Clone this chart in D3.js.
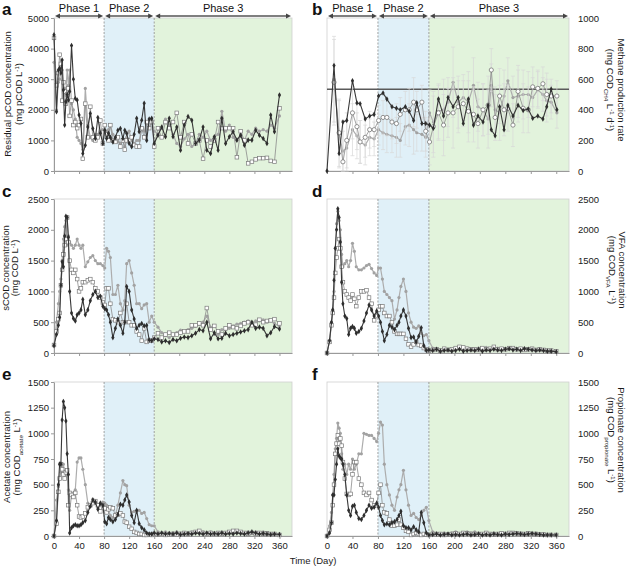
<!DOCTYPE html>
<html><head><meta charset="utf-8">
<script src="https://cdnjs.cloudflare.com/ajax/libs/d3/7.8.5/d3.min.js"></script>
<style>body{margin:0;background:#fff} svg{font-family:"Liberation Sans",Arial,sans-serif;display:block}</style>
</head><body><svg id="c" width="627" height="568"></svg>
<script>
// ---------- DATA ----------
const days = [
0,4,7,9,11,13,15,17,19,21,
23,25,28,31,34,37,40,43,46,50,
54,58,62,66,70,74,78,81,84,87,
90,94,98,102,106,110,113,116,120,124,
128,132,136,140,144,148,152,156,160,166,
172,178,184,190,196,202,208,214,220,226,
232,238,244,250,256,262,268,274,280,286,
292,298,304,310,316,322,328,334,340,346,
352,360];
const xTicks = [0,40,80,120,160,200,240,280,320,360];
const phaseNames = ["Phase 1","Phase 2","Phase 3"];
const phaseStarts = [0,80,160];

// a: residual pCOD
const aDark = [
4450,1940,3300,3360,3200,3630,2650,1500,2260,2500,
2320,2600,4100,3000,2370,2320,1830,1550,570,840,
1440,1880,1390,1060,1750,1230,900,1330,1060,1230,
1100,950,1100,1330,1390,1060,1330,1230,900,790,
1200,1720,1280,1660,2210,1000,1700,1720,900,1170,
1440,1120,1720,1120,1440,680,1500,1780,1660,900,
1010,1440,680,570,1120,680,1720,900,1120,1280,
1010,1170,840,1010,1010,1330,1170,1060,900,1830,
1280,2480];
const aGray = [
3550,2000,2900,3000,3300,3300,2300,2700,2600,3300,
2800,3300,2200,2000,1700,1100,1000,900,700,2700,
1500,1100,1000,1200,1200,1300,1350,1250,1300,1350,
1500,1200,1050,950,900,1000,800,1100,1300,1000,
900,1000,1000,1400,1300,1600,1400,1700,1300,1200,
1400,1700,1500,1200,900,800,1050,1200,800,900,
1200,1100,1300,1000,1100,1200,1950,1300,1500,1100,
1000,1200,1000,1300,1200,1400,1300,1350,1300,1500,
1400,1800];
const aOpen = [
4350,2800,3200,3800,3500,2300,2900,2600,2200,2500,
2700,1800,2300,1500,1600,1400,1500,1700,400,2200,
1100,2100,1100,1000,1100,1650,900,1500,1200,1000,
1500,1000,950,1100,800,1000,700,1000,1000,1100,
850,800,800,1400,1100,1600,1400,1600,800,1400,
1100,1600,1400,1600,1900,1100,1600,900,1200,900,
1000,400,1000,800,1000,1600,1400,1400,1400,1400,
450,1300,1000,250,300,380,420,420,430,330,
300,2050];

// b: methane production rate
const bDays = [0,11,19,25,31,40,47,52,60,67,74,81,88,94,102,109,115,123,129,136,141,149,155,161,167,175,183,190,198,206,214,222,230,237,245,253,258,264,271,278,284,292,300,308,316,323,331,339,345,352,361];
const bDark = [0,690,115,320,330,590,445,440,340,360, 370,490,510,470,420,410,400,420,390,330, 445,310,310,300,280,470,360,480,420,480, 310,470,300,360,320,430,270,230,420,270, 430,360,430,395,405,345,360,340,420,535, 400];
const bGray = [null,600,240,130,150,270,230,190,170,220, 210,270,250,240,230,220,200,290,300,270, 250,240,220,380,320,390,400,450,580,450, 480,450,560,420,400,340,560,400,380,490, 590,480,490,500,500,480,530,500,460,450, 380];
const bOpen = [null,580,250,60,200,380,290,190,220,270, 270,330,350,350,320,310,370,400,400,450, 400,450,260,190,290,380,300,380,380,420, 440,390,370,310,400,430,660,350,490,400, 410,300,520,410,400,550,540,570,500,490, 490];
const bErr = [0,280,220,200,180,170,150,140,130,120, 110,100,110,120,110,130,110,120,140,160, 120,110,130,150,200,180,200,160,230,170, 150,200,180,160,170,190,140,150,180,170, 150,140,170,160,150,130,120,110,140,110, 100];
const bTarget = 535;

// c: sCOD
const cDark = [
120,300,450,580,1100,1480,1400,1900,2220,2200,
1880,1000,650,560,520,620,650,700,870,620,
700,850,950,1000,900,920,760,720,700,620,
500,250,400,550,450,320,500,1080,1000,700,
550,400,450,480,440,450,210,200,230,220,
180,200,170,220,200,240,260,250,280,320,
380,360,500,230,330,230,240,320,280,300,
320,340,360,380,500,400,420,400,280,330,
430,390];
const cGray = [
120,500,800,1000,1200,1500,1850,2050,2150,1750,
1900,1800,1750,1700,1750,1850,1750,1700,1750,1400,
1480,1550,1580,1500,1450,1450,1420,1380,1700,1650,
1550,950,950,1100,800,700,850,1450,1500,1300,
1100,800,800,720,780,800,500,600,500,420,
330,280,250,290,330,370,350,380,400,430,
460,500,600,420,300,300,380,380,400,440,
470,480,500,520,490,520,520,540,500,520,
480,430];
const cOpen = [
130,350,550,650,1100,1350,1600,1750,1850,2200,
1800,1500,1350,1300,1350,1200,1000,1050,1150,1150,
1180,1200,1150,1050,1000,900,820,780,1050,1050,
800,550,530,500,650,500,500,800,500,450,
450,350,300,200,400,180,200,200,250,320,
250,300,330,300,300,330,350,350,450,450,
480,450,730,380,440,350,300,400,450,420,
400,440,480,500,450,460,540,500,520,530,
550,480];

// d: VFA
const dDark = [
0,200,500,700,1180,1700,2000,2340,2200,1800,
1150,800,600,560,300,400,430,400,320,350,
400,520,650,780,700,600,680,600,500,350,
200,300,450,420,380,450,500,600,700,600,
400,250,260,180,270,410,120,40,50,40,
60,30,40,50,30,40,60,30,40,50,
40,60,30,50,40,60,50,40,60,70,
50,60,40,70,60,50,40,50,40,30,
30,20];
const dGray = [
0,200,500,700,1000,1700,2100,2300,2150,2000,
1600,1400,1450,1500,1400,1500,1780,1650,1400,1350,
1350,1380,1420,1440,1370,1300,1260,1380,1380,1200,
1000,950,900,850,550,700,900,1080,1200,1000,
650,500,420,400,440,320,280,300,200,80,
60,50,70,40,60,80,90,60,80,60,
70,80,50,90,60,70,80,60,70,60,
80,70,60,80,60,50,60,70,50,40,
40,30];
const dOpen = [
0,180,450,650,900,1300,1550,1700,1850,1700,
1400,1150,1000,950,900,850,950,880,760,900,
1000,1000,1020,900,800,530,600,700,760,760,
650,600,600,500,350,310,310,310,310,230,
140,100,140,180,130,120,80,60,40,50,
60,40,70,50,60,80,100,90,70,60,
60,50,80,60,70,100,60,70,60,80,
80,60,70,50,60,70,50,60,50,40,
40,30];

// e: acetate
const eDark = [
0,150,500,700,700,1130,1310,1250,1120,800,
600,30,80,100,110,100,100,110,130,150,
230,290,350,330,260,320,300,140,120,180,
160,140,160,210,310,300,350,400,330,200,
130,250,120,80,60,30,20,20,30,20,
30,20,25,20,30,15,20,25,20,30,
25,20,30,20,25,20,30,20,25,20,
30,25,20,30,40,30,20,25,20,15,
20,15];
const eGray = [
0,350,480,560,620,650,700,620,600,580,
450,250,400,420,450,720,760,760,650,500,
320,290,360,320,310,300,330,320,300,250,
200,180,200,300,420,540,500,490,300,230,
240,240,250,220,230,170,110,100,100,40,
30,40,30,30,40,30,20,30,40,30,
50,40,30,40,30,20,40,30,40,40,
50,40,30,40,30,40,30,40,30,20,
20,20];
const eOpen = [
0,120,430,560,700,650,600,560,620,640,
300,420,400,380,420,300,190,180,190,220,
280,300,320,340,300,240,300,270,230,260,
280,270,200,210,220,200,140,130,90,70,
40,30,20,20,10,10,15,10,20,15,
20,10,15,20,15,20,30,20,30,40,
50,30,20,30,20,30,20,30,40,50,
50,40,30,20,30,20,30,20,25,20,
20,10];

// f: propionate
const fDark = [
0,30,130,400,400,550,700,850,780,760,
750,700,600,400,250,200,290,300,230,170,
160,200,250,300,270,280,320,280,200,150,
110,120,110,130,140,160,200,240,100,80,
80,60,90,60,40,230,130,30,10,15,
20,10,15,20,10,15,10,15,20,10,
15,20,10,15,10,20,15,10,20,15,
20,25,20,15,20,25,20,15,10,10,
10,10];
const fGray = [
0,100,230,400,600,850,950,1100,1050,1000,
800,650,700,600,700,650,750,650,700,800,
800,1000,990,980,980,950,920,1000,1110,1080,
700,500,400,300,250,380,450,500,640,450,
300,200,220,180,160,200,250,280,150,40,
30,20,30,20,30,40,20,30,40,30,
40,30,20,30,20,30,20,30,20,30,
30,20,30,20,30,20,25,20,20,15,
15,10];
const fOpen = [
0,60,130,300,500,800,900,980,900,950,
880,720,560,410,400,410,600,720,720,560,
500,420,400,420,350,300,300,420,500,300,
230,220,160,100,100,110,160,110,80,50,
40,10,20,30,20,10,20,15,10,20,
15,20,10,15,20,25,20,30,25,20,
20,15,20,30,20,15,20,25,20,30,
30,25,20,20,25,20,20,15,15,10,
10,10];

const yTicksA = [0,1000,2000,3000,4000,5000];
const yTicksB = [0,200,400,600,800,1000];
const yTicksCD = [0,500,1000,1500,2000,2500];
const yTicksEF = [0,250,500,750,1000,1250,1500];

// ---------- DRAWING ----------
const svg = d3.select('#c');
const COLS = {left:[54,292], right:[327,569]};
const ROWS = [[18,171],[199,353],[382,536]];
const X_DOMAIN = [0,380];
const ST = {
  dark:{line:'#383838', w:1.1},
  gray:{line:'#adadad', w:1.2},
  open:{line:'#8a8a8a', w:0.8}
};
const FONT = 'Liberation Sans, Arial, sans-serif';

function drawSeries(g, x, y, dd, vals, kind, errs, openCircle){
  const pts = dd.map((d,i)=>({d, v:vals[i], e: errs?errs[i]:null})).filter(p=>p.v!=null && p.v!==undefined);
  if(errs){
    const eg = g.append('g').attr('stroke','#d9d9d9').attr('stroke-width',0.7);
    pts.forEach(p=>{
      if(!p.e) return;
      const y1=y(Math.max(0,p.v-p.e)), y2=y(p.v+p.e), xx=x(p.d);
      eg.append('line').attr('x1',xx).attr('x2',xx).attr('y1',y1).attr('y2',y2);
      eg.append('line').attr('x1',xx-2).attr('x2',xx+2).attr('y1',y1).attr('y2',y1);
      eg.append('line').attr('x1',xx-2).attr('x2',xx+2).attr('y1',y2).attr('y2',y2);
    });
  }
  const s = ST[kind];
  g.append('path').datum(pts)
    .attr('d', d3.line().x(p=>x(p.d)).y(p=>y(p.v)))
    .attr('fill','none').attr('stroke',s.line).attr('stroke-width',s.w).attr('stroke-linejoin','round');
  const mg = g.append('g');
  pts.forEach(p=>{
    const xx=x(p.d), yy=y(p.v);
    if(kind==='dark'){
      mg.append('path').attr('d', d3.symbol().type(d3.symbolDiamond).size(9)()).attr('transform',`translate(${xx},${yy})`).attr('fill','#2e2e2e');
    } else if(kind==='gray'){
      mg.append('circle').attr('cx',xx).attr('cy',yy).attr('r',1.6).attr('fill','#a2a2a2');
    } else {
      if(openCircle) mg.append('circle').attr('cx',xx).attr('cy',yy).attr('r',2.1).attr('fill','#fff').attr('stroke','#777').attr('stroke-width',0.8);
      else mg.append('rect').attr('x',xx-1.8).attr('y',yy-1.8).attr('width',3.6).attr('height',3.6).attr('fill','#fff').attr('stroke','#7a7a7a').attr('stroke-width',0.7);
    }
  });
}

function panel(cfg){
  const [xl,xr] = COLS[cfg.side];
  const [yt,yb] = ROWS[cfg.row];
  const x = d3.scaleLinear().domain(X_DOMAIN).range([xl,xr]);
  const y = d3.scaleLinear().domain([0, cfg.yTicks[cfg.yTicks.length-1]]).range([yb,yt]);
  const g = svg.append('g');
  g.append('rect').attr('x',x(80)).attr('y',yt).attr('width',x(160)-x(80)).attr('height',yb-yt).attr('fill','#e0f0f8');
  g.append('rect').attr('x',x(160)).attr('y',yt).attr('width',xr-x(160)).attr('height',yb-yt).attr('fill','#e2f3dc');
  g.append('rect').attr('x',xl).attr('y',yt).attr('width',xr-xl).attr('height',yb-yt).attr('fill','none').attr('stroke','#cfcfcf').attr('stroke-width',0.8);
  [80,160].forEach(d=>g.append('line').attr('x1',x(d)).attr('x2',x(d)).attr('y1',yt).attr('y2',yb)
      .attr('stroke','#8c8c8c').attr('stroke-width',0.8).attr('stroke-dasharray','2,1.5'));

  // x axis
  const xa = d3.axisBottom(x).tickValues(xTicks).tickSize(3).tickSizeOuter(0).tickPadding(3)
     .tickFormat(cfg.row===2 ? d3.format('d') : ()=> '');
  g.append('g').attr('transform',`translate(0,${yb})`).call(xa).call(s=>{
    s.select('.domain').attr('stroke','#9a9a9a');
    s.selectAll('.tick line').attr('stroke','#9a9a9a');
    s.selectAll('text').attr('font-size',9.5).attr('fill','#1a1a1a').attr('font-family',FONT);
  });
  // y axis
  if(cfg.side==='left'){
    const ya = d3.axisLeft(y).tickValues(cfg.yTicks).tickFormat(d3.format('d')).tickSize(3).tickSizeOuter(0).tickPadding(2);
    g.append('g').attr('transform',`translate(${xl},0)`).call(ya).call(s=>{
      s.select('.domain').attr('stroke','#9a9a9a');
      s.selectAll('.tick line').attr('stroke','#9a9a9a');
      s.selectAll('text').attr('font-size',9.5).attr('fill','#1a1a1a').attr('font-family',FONT);
    });
  } else {
    const ya = d3.axisRight(y).tickValues(cfg.yTicks).tickFormat(d3.format('d')).tickSize(0).tickSizeOuter(0).tickPadding(9);
    g.append('g').attr('transform',`translate(${xr},0)`).call(ya).call(s=>{
      s.select('.domain').attr('stroke','none');
      s.selectAll('text').attr('font-size',9.5).attr('fill','#1a1a1a').attr('font-family',FONT);
    });
  }

  if(cfg.target!=null){
    g.append('line').attr('x1',xl).attr('x2',xr).attr('y1',y(cfg.target)).attr('y2',y(cfg.target))
      .attr('stroke','#5a5a5a').attr('stroke-width',1.5);
  }
  const dd = cfg.days;
  drawSeries(g,x,y,dd,cfg.gray,'gray',cfg.err,false);
  drawSeries(g,x,y,dd,cfg.open,'open',cfg.err,cfg.openCircle);
  drawSeries(g,x,y,dd,cfg.dark,'dark',null,false);

  // panel letter
  svg.append('text').attr('x', cfg.side==='left'?2:312).attr('y', yt-3 + (cfg.row===0?0:1))
    .attr('font-size',17).attr('font-weight','bold').attr('fill','#111').text(cfg.letter);

  // phase arrows
  if(cfg.row===0){
    const ay = 16;
    const ends = [0,80,160,X_DOMAIN[1]];
    phaseNames.forEach((nm,i)=>{
      const x1 = x(ends[i])+1, x2 = x(ends[i+1])-1;
      g.append('line').attr('x1',x1+4).attr('x2',x2-4).attr('y1',ay).attr('y2',ay).attr('stroke','#555').attr('stroke-width',1.3);
      g.append('path').attr('d',`M${x1},${ay}L${x1+5},${ay-2.6}L${x1+5},${ay+2.6}Z`).attr('fill','#444');
      g.append('path').attr('d',`M${x2},${ay}L${x2-5},${ay-2.6}L${x2-5},${ay+2.6}Z`).attr('fill','#444');
      g.append('text').attr('x',(x(ends[i])+x(ends[i+1]))/2).attr('y',12).attr('text-anchor','middle')
        .attr('font-size',11).attr('fill','#111').text(nm);
    });
  }

  // y title
  const rot = cfg.side==='left' ? -90 : 90;
  cfg.title.forEach((line,li)=>{
    const cx = line.cx;
    const bx = cx + (rot===-90 ? 0.35 : -0.35)*cfg.tfs;
    const t = svg.append('text').attr('transform',`translate(${bx},${cfg.tcy}) rotate(${rot})`)
      .attr('text-anchor','middle').attr('font-size',cfg.tfs).attr('fill','#1a1a1a');
    line.parts.forEach(p=>{
      const [txt,kind] = p;
      const ts = t.append('tspan').text(txt);
      if(kind==='sup'){ ts.attr('font-size',cfg.tfs*0.65).attr('dy',-cfg.tfs*0.35); }
      else if(kind==='sub'){ ts.attr('font-size',cfg.tfs*0.65).attr('dy',cfg.tfs*0.25); }
      else if(kind==='back-sup'){ ts.attr('dy',cfg.tfs*0.35); }
      else if(kind==='back-sub'){ ts.attr('dy',-cfg.tfs*0.25); }
    });
  });
}

panel({letter:'a', side:'left', row:0, yTicks:yTicksA, days:days, dark:aDark, gray:aGray, open:aOpen,
  tfs:9.5, tcy:94, title:[
   {cx:8, parts:[['Residual pCOD concentration']]},
   {cx:19, parts:[['(mg pCOD L'],['-1','sup'],[')','back-sup']]}]});
panel({letter:'b', side:'right', row:0, yTicks:yTicksB, days:bDays, dark:bDark, gray:bGray, open:bOpen, err:bErr, openCircle:true, target:bTarget,
  tfs:9.5, tcy:90, title:[
   {cx:621, parts:[['Methane production rate']]},
   {cx:610, parts:[['(mg COD'],['CH4','sub'],[' L','back-sub'],['-1','sup'],[' d','back-sup'],['-1','sup'],[')','back-sup']]}]});
panel({letter:'c', side:'left', row:1, yTicks:yTicksCD, days:days, dark:cDark, gray:cGray, open:cOpen,
  tfs:9.5, tcy:268, title:[
   {cx:6, parts:[['sCOD concentration']]},
   {cx:15, parts:[['(mg COD L'],['-1','sup'],[')','back-sup']]}]});
panel({letter:'d', side:'right', row:1, yTicks:yTicksCD, days:days, dark:dDark, gray:dGray, open:dOpen,
  tfs:9.5, tcy:270, title:[
   {cx:622, parts:[['VFA concentration']]},
   {cx:612, parts:[['(mg COD'],['VFA','sub'],[' L','back-sub'],['-1','sup'],[')','back-sup']]}]});
panel({letter:'e', side:'left', row:2, yTicks:yTicksEF, days:days, dark:eDark, gray:eGray, open:eOpen,
  tfs:9.5, tcy:457, title:[
   {cx:7, parts:[['Acetate concentration']]},
   {cx:17, parts:[['(mg COD'],['acetate','sub'],[' L','back-sub'],['-1','sup'],[')','back-sup']]}]});
panel({letter:'f', side:'right', row:2, yTicks:yTicksEF, days:days, dark:fDark, gray:fGray, open:fOpen,
  tfs:9.5, tcy:440, title:[
   {cx:621, parts:[['Propionate concentration']]},
   {cx:611, parts:[['(mg COD'],['propionate','sub'],[' L','back-sub'],['-1','sup'],[')','back-sup']]}]});

svg.append('text').attr('x',313).attr('y',564).attr('text-anchor','middle').attr('font-size',9.5).attr('fill','#1a1a1a').text('Time (Day)');
</script>
</body></html>
